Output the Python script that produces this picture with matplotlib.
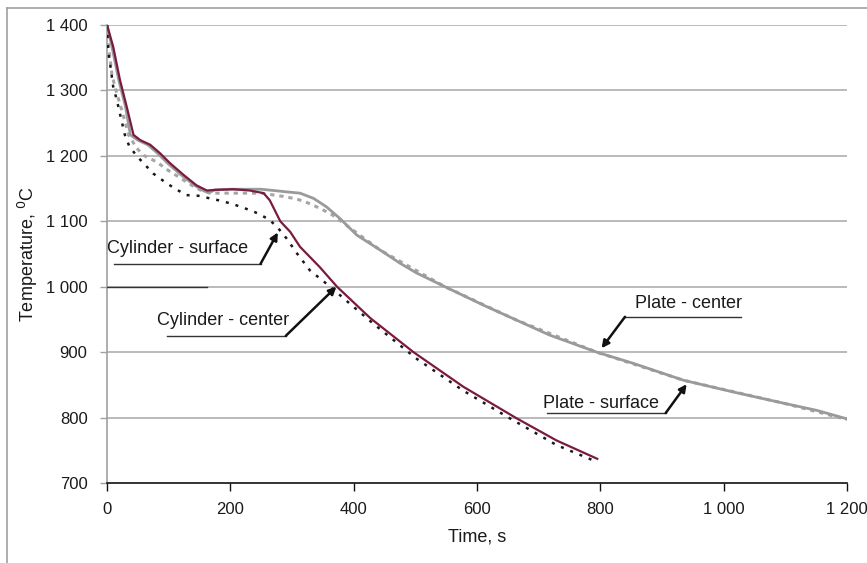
import matplotlib
matplotlib.use("Agg")
import matplotlib.pyplot as plt
from matplotlib.lines import Line2D

plt.rcParams['font.family'] = ['Liberation Sans', 'DejaVu Sans']

# ---- data -------------------------------------------------------------
cyl_center_t = [0, 10, 21, 32, 43, 54, 70, 86, 102, 124, 145, 162, 175, 205, 232,
                254, 264, 272, 281, 297, 313, 345, 373, 427, 497, 578, 664, 729, 795]
cyl_center_T = [1400, 1367, 1316, 1275, 1232, 1224, 1217, 1204, 1189, 1171, 1155, 1147,
                1148, 1149, 1147, 1143, 1132, 1117, 1100, 1084, 1061, 1030, 1000, 952,
                900, 847, 799, 765, 737]

cyl_surf_t = [0, 2, 5, 10, 16, 24, 29, 36, 48, 75, 94, 110, 129, 148, 167, 186, 205,
              226, 245, 264, 278, 291, 308, 329, 362, 389, 430, 502, 578, 653, 729, 795]
cyl_surf_T = [1400, 1359, 1341, 1306, 1285, 1252, 1232, 1215, 1200, 1173, 1160, 1150,
              1140, 1139, 1135, 1131, 1126, 1119, 1112, 1102, 1089, 1074, 1051, 1025,
              1000, 978, 945, 890, 841, 799, 758, 732]

plate_center_t = [0, 8, 19, 30, 38, 50, 66, 82, 98, 120, 142, 158, 166, 175, 200, 250,
                  291, 313, 335, 356, 378, 391, 405, 443, 475, 502, 548, 610, 664, 718,
                  794, 853, 935, 1016, 1097, 1151, 1200]
plate_center_T = [1400, 1367, 1316, 1275, 1232, 1224, 1217, 1204, 1189, 1171, 1155, 1146,
                  1144, 1148, 1149, 1149, 1145, 1143, 1135, 1122, 1104, 1092, 1079, 1056,
                  1036, 1021, 1000, 972, 949, 926, 900, 883, 857, 839, 822, 811, 798]

plate_surf_t = [0, 3, 8, 16, 24, 35, 48, 59, 80, 99, 116, 132, 151, 167, 200, 250, 286,
                308, 326, 345, 365, 391, 443, 548, 664, 794, 935, 1097, 1200]
plate_surf_T = [1400, 1365, 1324, 1295, 1270, 1232, 1212, 1201, 1191, 1178, 1168, 1158,
                1148, 1143, 1143, 1143, 1138, 1134, 1128, 1120, 1110, 1092, 1056, 1000,
                949, 900, 857, 822, 797]

x_ticks = [0, 200, 400, 600, 800, 1000, 1200]
x_tick_labels = ['0', '200', '400', '600', '800', '1 000', '1 200']
y_ticks = [700, 800, 900, 1000, 1100, 1200, 1300, 1400]
y_tick_labels = ['700', '800', '900', '1 000', '1 100', '1 200', '1 300', '1 400']

# annotations: label, text position, underline (x0, x1, y), arrow start, arrow tip
labels = ['Cylinder - surface', 'Cylinder - center', 'Plate - center', 'Plate - surface']
label_xy = [(0, 1058), (81, 949), (856, 975), (707, 822)]
underline = [(11, 249, 1035), (97, 290, 925), (840, 1028, 954), (713, 906, 807)]
arrow_start = [(249, 1035), (290, 925), (840, 954), (906, 807)]
arrow_tip = [(277, 1083), (372, 1000), (802, 906), (940, 851)]
stray_line = (0, 162, 1000)

FS = 13
TFS = 12

# ---- figure -------------------------------------------------------------
fig = plt.figure(figsize=(8.67, 5.63), dpi=100)
ax = fig.add_axes([107/867, 1 - 483/563, (847-107)/867, (483-25)/563])

grid_c = '#b4b4b4'
for yv in y_ticks[1:]:
    ax.axhline(yv, color=grid_c, lw=1.3, zorder=1)

ax.plot(plate_surf_t, plate_surf_T, color='#a6a6a6', lw=2.2, ls=(0, (1.4, 1.6)), zorder=3)
ax.plot(plate_center_t, plate_center_T, color='#9a9a9a', lw=2.0, zorder=4)
ax.plot(cyl_surf_t, cyl_surf_T, color='#1a1a1a', lw=1.8, ls=(0, (1.2, 2.8)), zorder=5)
ax.plot(cyl_center_t, cyl_center_T, color='#7a1a40', lw=1.6, zorder=6)

ax.plot([stray_line[0], stray_line[1]], [stray_line[2]] * 2, color='#333333', lw=1.0, zorder=7)

for lab, (tx, ty), (u0, u1, uy), s, tip in zip(labels, label_xy, underline, arrow_start, arrow_tip):
    ax.text(tx, ty, lab, fontsize=FS, color='#1a1a1a', ha='left', va='center', zorder=8)
    ax.plot([u0, u1], [uy, uy], color='#333333', lw=1.0, zorder=8)
    ax.annotate('', xy=tip, xytext=s,
                arrowprops=dict(arrowstyle='-|>', color='#111111', lw=1.8,
                                mutation_scale=11, shrinkA=0, shrinkB=0), zorder=9)

ax.set_xlim(0, 1200)
ax.set_ylim(700, 1400)
ax.set_xticks(x_ticks)
ax.set_xticklabels(x_tick_labels)
ax.set_yticks(y_ticks)
ax.set_yticklabels(y_tick_labels)

for side in ['top', 'right']:
    ax.spines[side].set_visible(False)
ax.spines['left'].set_color('#a0a0a0')
ax.spines['left'].set_linewidth(1.2)
ax.spines['bottom'].set_color('#111111')
ax.spines['bottom'].set_linewidth(1.2)

ax.tick_params(axis='x', direction='out', length=6, width=1.0, color='#111111',
               labelsize=TFS, pad=8, labelcolor='#1a1a1a')
ax.tick_params(axis='y', direction='out', length=5, width=1.0, color='#a0a0a0',
               labelsize=TFS, pad=9, labelcolor='#1a1a1a')

ax.set_xlabel('Time, s', fontsize=FS, labelpad=8, color='#1a1a1a')
ax.set_ylabel('Temperature, $^{0}$C', fontsize=FS, labelpad=4, color='#1a1a1a')

# outer frame (left and top edges)
fig.add_artist(Line2D([7/867, 7/867], [0, 1 - 8/563], transform=fig.transFigure,
                      color='#a0a0a0', lw=1.2))
fig.add_artist(Line2D([7/867, 1], [1 - 8/563, 1 - 8/563], transform=fig.transFigure,
                      color='#a0a0a0', lw=1.2))

fig.savefig('out.png', dpi=100)
